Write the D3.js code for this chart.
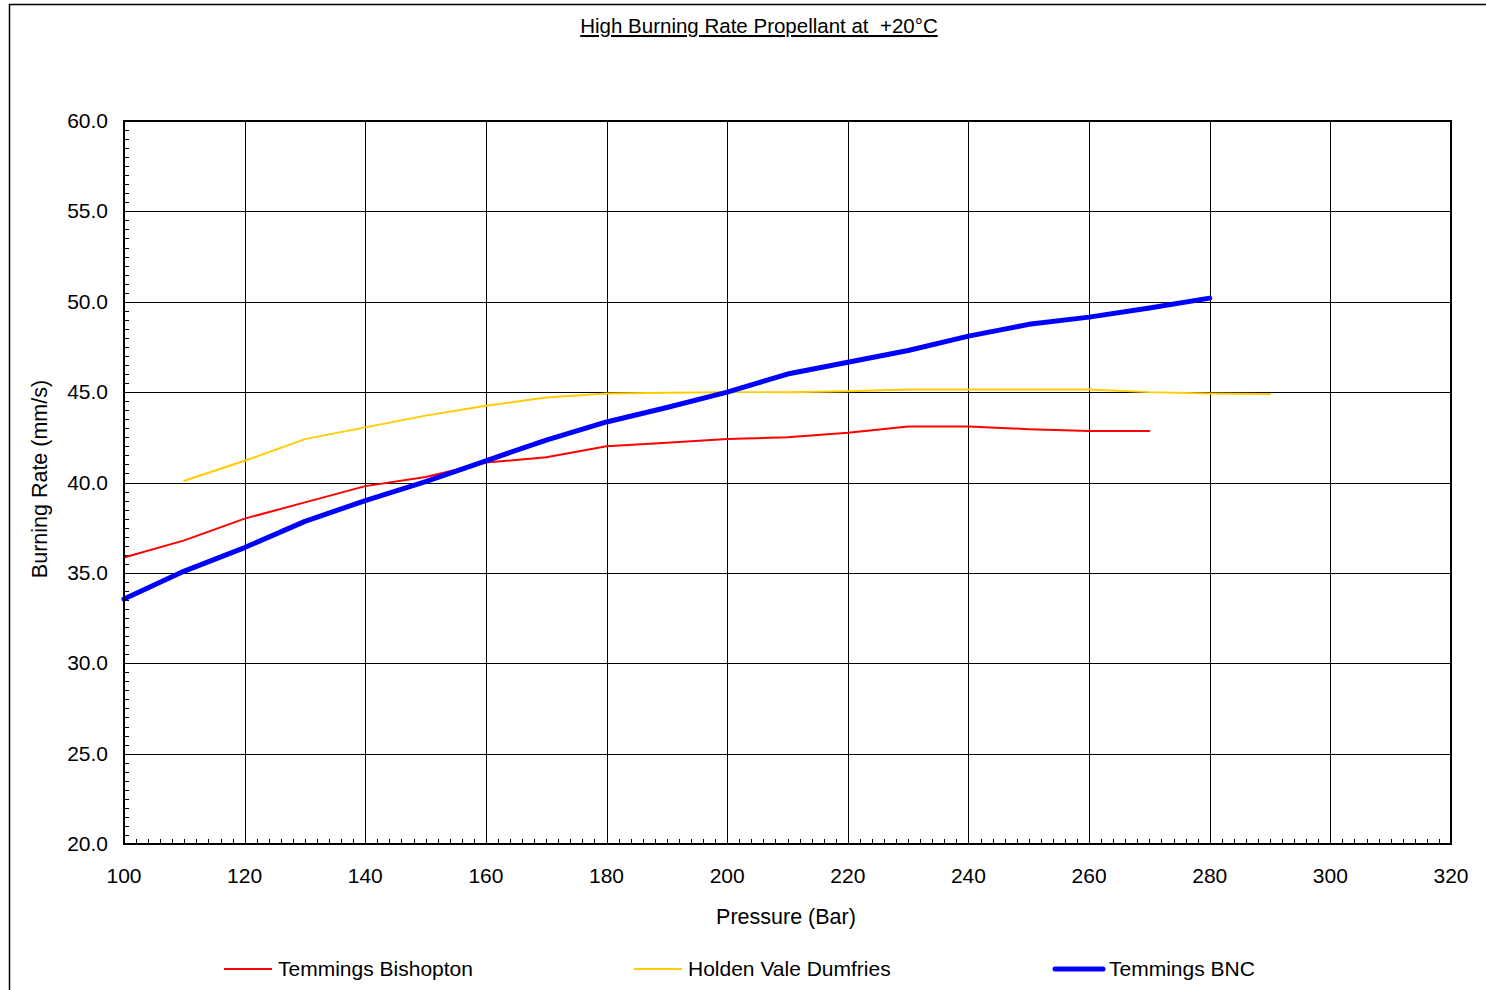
<!doctype html>
<html>
  <head>
    <meta charset="UTF-8">
    <title>High Burning Rate Propellant</title>
    <script src="https://d3js.org/d3.v7.min.js"></script>
    <style>
      body { margin: 0; background: #fff; }
      svg { display: block; font-family: "Liberation Sans", Arial, sans-serif; }
      .tick-label { font-size: 21px; fill: #000; }
      .grid line { stroke: #000; stroke-width: 1px; }
    </style>
  </head>
  <body>
    <svg id="chart" width="1486" height="990"></svg>
    <script>
      // Chart data (pressure in bar, burning rate in mm/s)
      const pressureA = [100, 110, 120, 130, 140, 150, 160, 170, 180, 190, 200, 210, 220, 230, 240, 250, 260, 270];
      const bishopton = [35.85, 36.8, 38.0, 38.9, 39.8, 40.3, 41.1, 41.4, 42.0, 42.2, 42.4, 42.5, 42.75, 43.1, 43.1, 42.95, 42.85, 42.85];

      const pressureB = [110, 120, 130, 140, 150, 160, 170, 180, 190, 200, 210, 220, 230, 240, 250, 260, 270, 280, 290];
      const dumfries = [40.1, 41.2, 42.4, 43.05, 43.7, 44.25, 44.7, 44.93, 44.96, 45.0, 45.0, 45.05, 45.15, 45.15, 45.15, 45.15, 45.0, 44.93, 44.9];

      const pressureC = [100, 110, 120, 130, 140, 150, 160, 170, 180, 190, 200, 210, 220, 230, 240, 250, 260, 270, 280];
      const bnc = [33.55, 35.1, 36.4, 37.85, 39.0, 40.05, 41.2, 42.35, 43.35, 44.15, 45.0, 46.0, 46.65, 47.3, 48.1, 48.75, 49.15, 49.65, 50.2];

      const xTicks = [100, 120, 140, 160, 180, 200, 220, 240, 260, 280, 300, 320];
      const yTicks = [20, 25, 30, 35, 40, 45, 50, 55, 60];

      const series = [
        { name: "Temmings Bishopton", x: pressureA, y: bishopton, color: "#ff0000", width: 2 },
        { name: "Holden Vale Dumfries", x: pressureB, y: dumfries, color: "#ffcc00", width: 2 },
        { name: "Temmings BNC", x: pressureC, y: bnc, color: "#0000ff", width: 5 }
      ];

      const svg = d3.select("#chart");
      const plotLeft = 124, plotRight = 1451, plotTop = 121, plotBottom = 844;

      const x = d3.scaleLinear().domain([100, 320]).range([plotLeft, plotRight]);
      const y = d3.scaleLinear().domain([20, 60]).range([plotBottom, plotTop]);

      // outer chart-area frame
      svg.append("rect")
        .attr("x", 9.5).attr("y", 4.5)
        .attr("width", 1500).attr("height", 1000)
        .attr("fill", "none").attr("stroke", "#000").attr("stroke-width", 1.5);

      // title
      svg.append("text")
        .attr("x", 759).attr("y", 33)
        .attr("text-anchor", "middle")
        .attr("xml:space", "preserve")
        .style("font-size", "20.5px")
        .style("text-decoration", "underline")
        .text("High Burning Rate Propellant at  +20°C");

      // gridlines
      svg.append("g").attr("class", "grid")
        .selectAll("line").data(xTicks.slice(1, -1)).join("line")
        .attr("x1", d => Math.round(x(d)) + 0.5).attr("x2", d => Math.round(x(d)) + 0.5)
        .attr("y1", plotTop).attr("y2", plotBottom);
      svg.append("g").attr("class", "grid")
        .selectAll("line").data(yTicks.slice(1, -1)).join("line")
        .attr("x1", plotLeft).attr("x2", plotRight)
        .attr("y1", d => Math.round(y(d)) + 0.5).attr("y2", d => Math.round(y(d)) + 0.5);

      // minor ticks (inward)
      const xMinor = d3.range(100, 321, 2);
      svg.append("g").selectAll("line").data(xMinor).join("line")
        .attr("x1", d => Math.round(x(d)) + 0.5).attr("x2", d => Math.round(x(d)) + 0.5)
        .attr("y1", plotBottom).attr("y2", plotBottom - 5)
        .attr("stroke", "#000").attr("stroke-width", 1);
      const yMinor = d3.range(20, 60.01, 0.5);
      svg.append("g").selectAll("line").data(yMinor).join("line")
        .attr("x1", plotLeft).attr("x2", plotLeft + 5)
        .attr("y1", d => Math.round(y(d)) + 0.5).attr("y2", d => Math.round(y(d)) + 0.5)
        .attr("stroke", "#000").attr("stroke-width", 1);

      // tick labels
      svg.append("g").selectAll("text").data(xTicks).join("text")
        .attr("class", "tick-label")
        .attr("x", d => x(d)).attr("y", 883)
        .attr("text-anchor", "middle")
        .text(d => d);
      svg.append("g").selectAll("text").data(yTicks).join("text")
        .attr("class", "tick-label")
        .attr("x", 108).attr("y", d => y(d) + 7)
        .attr("text-anchor", "end")
        .text(d => d.toFixed(1));

      // axis titles
      svg.append("text")
        .attr("x", 786).attr("y", 924)
        .attr("text-anchor", "middle")
        .style("font-size", "21.5px")
        .text("Pressure (Bar)");
      svg.append("text")
        .attr("transform", "translate(47,479) rotate(-90)")
        .attr("text-anchor", "middle")
        .style("font-size", "21.5px")
        .text("Burning Rate (mm/s)");

      // series lines
      const line = d3.line();
      svg.append("g")
        .selectAll("path").data(series).join("path")
        .attr("d", s => line(s.x.map((v, i) => [x(v), y(s.y[i])])))
        .attr("fill", "none")
        .attr("stroke", s => s.color)
        .attr("stroke-width", s => s.width)
        .attr("stroke-linejoin", "round")
        .attr("stroke-linecap", "round");

      // plot border
      svg.append("rect")
        .attr("x", plotLeft).attr("y", plotTop)
        .attr("width", plotRight - plotLeft).attr("height", plotBottom - plotTop)
        .attr("fill", "none").attr("stroke", "#000").attr("stroke-width", 2);

      // legend
      const legendX = [224, 634, 1055];
      const legend = svg.append("g").selectAll("g").data(series).join("g")
        .attr("transform", (s, i) => `translate(${legendX[i]},969)`);
      legend.append("line")
        .attr("x1", 0).attr("x2", 48)
        .attr("stroke", s => s.color)
        .attr("stroke-width", s => s.width)
        .attr("stroke-linecap", s => s.width > 3 ? "round" : "butt");
      legend.append("text")
        .attr("x", 54).attr("y", 7)
        .style("font-size", "21px")
        .text(s => s.name);
    </script>
  </body>
</html>
